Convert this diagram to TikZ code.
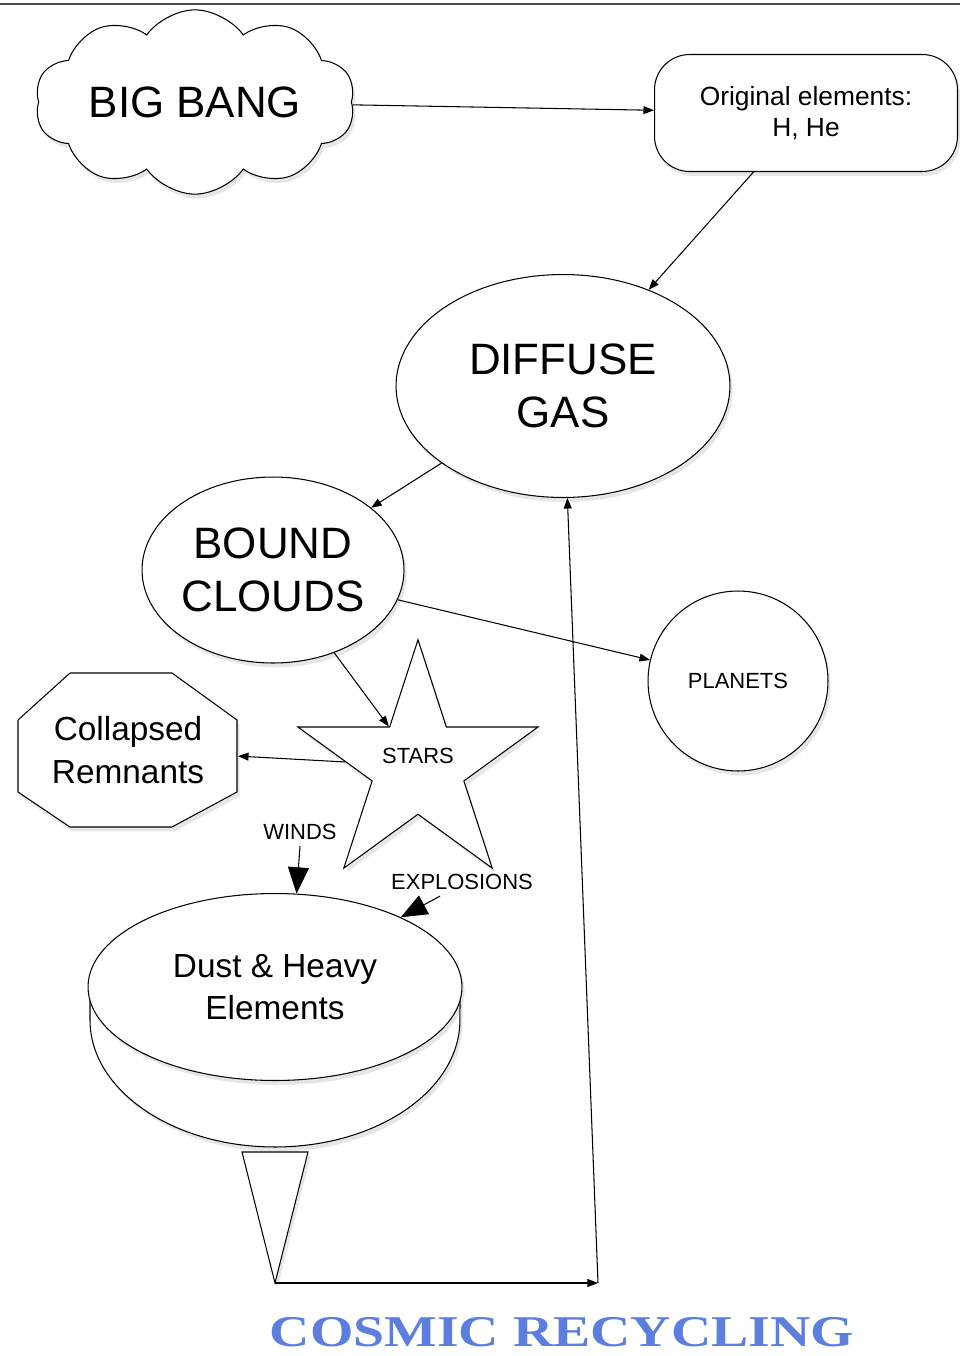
\documentclass[tikz,border=0pt]{standalone}
\usepackage{fontspec}
\setmainfont{Liberation Sans}
\newfontfamily\titlefont[FakeStretch=1.27]{Liberation Serif}
\usetikzlibrary{positioning, arrows.meta, shapes.geometric, shapes.symbols, shadows}
\definecolor{titleblue}{RGB}{92,126,222}

\begin{document}
\begin{tikzpicture}[
        x=0.02cm, y=-0.02cm,
        line width=0.6pt,
        shade/.style={drop shadow={opacity=0.2, shadow xshift=1.5pt, shadow yshift=-2.5pt}},
        bigtext/.style={font=\fontsize{25}{30}\selectfont, align=center},
        midtext/.style={font=\fontsize{19}{24}\selectfont, align=center},
        smalltext/.style={font=\fontsize{12.5}{15}\selectfont, align=center},
        blob/.style={ellipse, draw, fill=white, shade, inner sep=0pt},
        arrow/.style={-{Triangle[length=6pt, width=4.5pt]}},
        bigarrow/.style={-{Triangle[length=15pt, width=12pt]}}
    ]
        \useasboundingbox (0,0) rectangle (960,1356);
        \draw[gray!60!black, line width=1.2pt] (0,4) -- (960,4);

        \node[cloud, cloud puffs=10, cloud puff arc=110, aspect=2.1, draw, fill=white, shade, bigtext, minimum width=6.4cm, minimum height=3.1cm, inner sep=0pt] (bigbang) at (195,102) {BIG BANG};
        \node[rectangle, rounded corners=20pt, draw, fill=white, shade, font=\fontsize{15}{18}\selectfont, align=center, minimum width=6.06cm, minimum height=2.34cm] (original) at (806,113) {Original elements:\\H, He};
        \node[blob, bigtext, minimum width=6.68cm, minimum height=4.46cm] (diffuse) at (563,386) {DIFFUSE\\GAS};
        \node[blob, bigtext, minimum width=5.24cm, minimum height=3.72cm] (bound) at (273,570) {BOUND\\CLOUDS};
        \node[circle, draw, fill=white, shade, smalltext, minimum size=3.6cm] (planets) at (738,681) {PLANETS};
        \node[star, star points=5, star point ratio=2.618, draw, fill=white, shade, minimum size=5.05cm, inner sep=0pt,
              label={[smalltext, yshift=6pt]center:STARS}] (stars) at (418,766) {};

        % octagon round the remnants
        \draw[fill=white, shade] (70,673) -- (172,673) -- (237,720) -- (237,792) -- (172,827) -- (70,827) -- (18,792) -- (18,720) -- cycle;
        \node[midtext, minimum width=4.38cm, minimum height=3.08cm, inner sep=0pt] (remnants) at (128,750) {Collapsed\\Remnants};

        % bowl and cone under the dust
        \draw[fill=white, shade] (90,1000) -- (90,1020) arc[start angle=180, end angle=360, x radius=3.7cm, y radius=2.54cm] -- (460,1000) -- cycle;
        \node[blob, midtext, minimum width=7.48cm, minimum height=3.74cm] (dust) at (275,987) {Dust \& Heavy\\Elements};
        \draw[fill=white, shade] (242,1152) -- (308,1152) -- (275,1283) coordinate (coneapex) -- cycle;
        \coordinate (turn) at (598,1283);

        \node[smalltext] (winds) at (300,832) {WINDS};
        \node[smalltext] (explosions) at (462,882) {EXPLOSIONS};
        \node[font=\titlefont\bfseries\fontsize{25}{30}\selectfont, text=titleblue, inner sep=0pt, anchor=base] (title) at (562,1346) {COSMIC RECYCLING};

        \draw[arrow] (bigbang) -- (original);
        \draw[arrow] (original) -- (diffuse);
        \draw[arrow] (diffuse) -- (bound);
        \draw[arrow] (bound) -- (planets);
        \draw[arrow] (bound) -- (stars);
        \draw[arrow] (stars) -- (remnants);
        \draw[bigarrow] (winds.south) -- (dust.77);
        \draw[bigarrow] ([xshift=-0.44cm]explosions.south) -- (dust.29);
        \draw[arrow] (coneapex) -- (turn);
        \draw[arrow] (turn) -- (diffuse);
    \end{tikzpicture}
\end{document}
